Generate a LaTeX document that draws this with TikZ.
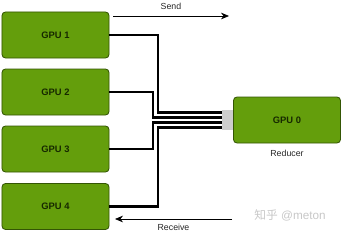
\documentclass[tikz,border=0pt]{standalone}
\usepackage{fontspec}
\setmainfont{Liberation Sans}
\newfontfamily\cjkfont{Noto Sans CJK SC}
\usetikzlibrary{positioning,arrows.meta}
\definecolor{GpuGreen}{RGB}{100,158,12}
\definecolor{GpuEdge}{RGB}{52,86,4}
\definecolor{GpuText}{RGB}{22,40,0}
\definecolor{PortGrey}{RGB}{205,205,205}
\tikzset{
  gpu box/.style={
    draw=GpuEdge,
    fill=GpuGreen,
    line width=0.7pt,
    rounded corners=3pt,
    minimum width=32.1mm,
    minimum height=13.8mm,
    text=GpuText,
    font=\fontsize{8}{9}\selectfont\bfseries
  },
  gpu port/.style={fill=PortGrey, minimum width=3.3mm, minimum height=5.9mm, inner sep=0pt},
  gpu bus/.style={line width=2.3pt, black},
  flow arrow/.style={-{Stealth[length=2.4mm,width=2mm]}, line width=0.6pt, black},
  flow label/.style={font=\fontsize{7.5}{9}\selectfont, text=black!85}
}
\begin{document}
\begin{tikzpicture}[x=0.3mm,y=-0.3mm]
\useasboundingbox (0,0) rectangle (343,235);
% the four workers
\node[gpu box] (g1) at (55.5,35) {GPU 1};
\node[gpu box] (g2) at (55.5,92) {GPU 2};
\node[gpu box] (g3) at (55.5,149) {GPU 3};
\node[gpu box] (g4) at (55.5,206.5) {GPU 4};
% the reducer
\node[gpu box] (g0) at (287,120) {GPU 0};
\node[flow label, below=0.9mm of g0] (red) {Reducer};
\node[gpu port, left=0pt of g0] (port) {};
\coordinate (in1) at ([yshift=2.25mm]port.west);
\coordinate (in2) at ([yshift=0.75mm]port.west);
\coordinate (in3) at ([yshift=-0.75mm]port.west);
\coordinate (in4) at ([yshift=-2.25mm]port.west);
% bus lines
\draw[gpu bus] (g1.east) -- (158,35) |- (in1);
\draw[gpu bus] (g2.east) -- (153,92) |- (in2);
\draw[gpu bus] (g3.east) -- (153,149) |- (in3);
\draw[gpu bus] (g4.east) -- (158,206.5) |- (in4);
% send / receive
\coordinate (s0) at (113,16);
\coordinate (s1) at (229,16);
\draw[flow arrow] (s0) -- (s1) node[flow label, midway, above=0.6mm] (send) {Send};
\coordinate (r0) at (232,219);
\coordinate (r1) at (115,219);
\draw[flow arrow] (r0) -- (r1) node[flow label, midway, below=0.3mm] (recv) {Receive};
\node[text=black!22, font=\fontsize{10}{12}\selectfont] (mark) at (290,215) {{\cjkfont 知乎} @meton};
\end{tikzpicture}
\end{document}
